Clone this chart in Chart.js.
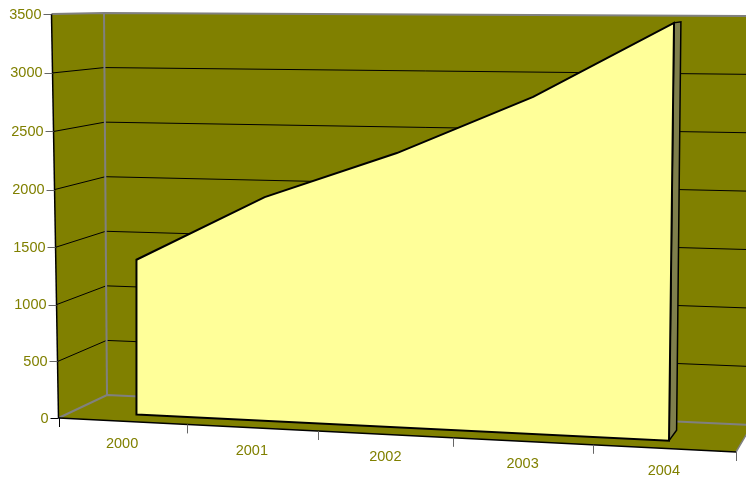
<!DOCTYPE html>
<html>
<head>
<meta charset="utf-8">
<title>3D area chart</title>
<script src="https://cdn.jsdelivr.net/npm/chart.js@4/dist/chart.umd.min.js"></script>
<style>
  html, body { margin: 0; padding: 0; background: #fff; }
  canvas { display: block; }
</style>
</head>
<body>
<canvas id="chart" width="746" height="479"></canvas>
<script>
const years = ['2000', '2001', '2002', '2003', '2004'];
const values = [1367, 1943, 2345, 2835, 3455];
const valueTicks = [0, 500, 1000, 1500, 2000, 2500, 3000, 3500];

const OLIVE = '#808000';
const GREY = '#808080';
const AREA_FRONT = 0.29;
const AREA_BACK = 0.68;

// corners of the box on screen, the 3d look comes from these
const frontPlane = { bl: [58.5, 418], br: [736, 452], tl: [51.5, 14], tr: [742.5, 18.5] };
const backPlane = { bl: [107, 395], br: [752, 425], tl: [104, 13], tr: [756, 16] };
const PERSPECTIVE_X = 1.073;
const PERSPECTIVE_Y = 1.025;

const lerp = (a, b, t) => a + (b - a) * t;

function project(u, v, d) {
    const w = u / (u + PERSPECTIVE_X * (1 - u));
    const h = v / (v + lerp(PERSPECTIVE_Y, 1, d) * (1 - v));
    const [x, y] = [0, 1].map(i => {
        const front = lerp(lerp(frontPlane.bl[i], frontPlane.br[i], w), lerp(frontPlane.tl[i], frontPlane.tr[i], w), h);
        const back = lerp(lerp(backPlane.bl[i], backPlane.br[i], w), lerp(backPlane.tl[i], backPlane.tr[i], w), h);
        return lerp(front, back, d);
    });
    // the walls lean more than the area does, straighten the planes in between
    const lean = d > 0 && d < 1 ? (1 - w) * (1.5 + 5 * h) - w * 0.7 : 0;
    return [x + lean, y];
}

const xMin = -0.5;
const xMax = years.length - 0.5;
const yMax = valueTicks[valueTicks.length - 1];

function shape(points, fill, stroke, width) {
    return {
        data: points.map(p => ({ x: p[0], y: p[1], d: p[2] })),
        showLine: true,
        pointRadius: 0,
        tension: 0,
        clip: false,
        fill: fill ? 'shape' : false,
        backgroundColor: fill || 'transparent',
        borderColor: stroke || 'transparent',
        borderWidth: stroke ? width : 0,
    };
}

const lastIdx = years.length - 1;
const faceTop = values.map((v, i) => [i, v, AREA_FRONT]);

// listed back to front
const layers = [
    shape([[xMin, 0, 1], [xMax, 0, 1], [xMax, yMax, 1], [xMin, yMax, 1]], OLIVE),
    shape([[xMin, 0, 0], [xMin, 0, 1], [xMin, yMax, 1], [xMin, yMax, 0]], OLIVE),
    shape([[xMin, 0, 0], [xMax, 0, 0], [xMax, 0, 1], [xMin, 0, 1]], OLIVE),
];

valueTicks.slice(1, -1).forEach(t => {
    layers.push(shape([[xMin, t, 0], [xMin, t, 1], [xMax, t, 1]], null, '#000', 1));
});

layers.push(
    shape([[xMin, yMax, 0], [xMin, yMax, 1], [xMax, yMax, 1]], null, GREY, 2),
    shape([[xMin, 0, 1], [xMin, yMax, 1]], null, GREY, 2),
    shape([[xMin, 0, 0], [xMin, 0, 1], [xMax, 0, 1]], null, GREY, 2),
    shape([[xMax, 0, 0], [xMax, 0, 1]], null, GREY, 1.5),
    shape([[xMin, 0, 0], [xMin, yMax, 0]], null, '#000', 1.5),
    shape([[xMin, 0, 0], [xMax, 0, 0]], null, '#000', 1.5),
    // end cap of the area
    shape([
        [lastIdx, 0, AREA_FRONT], [lastIdx, 0, AREA_BACK],
        [lastIdx, values[lastIdx], AREA_BACK], [lastIdx, values[lastIdx], AREA_FRONT],
        [lastIdx, 0, AREA_FRONT],
    ], '#7f7f4c', '#000', 1.5),
    // front of the area
    shape([
        [0, 0, AREA_FRONT], ...faceTop, [lastIdx, 0, AREA_FRONT], [0, 0, AREA_FRONT],
    ], '#ffff99', '#000', 2)
);

const perspectivePlugin = {
    id: 'perspective',
    afterDatasetsUpdate(chart) {
        const { left, right, top, bottom } = chart.chartArea;
        chart.data.datasets.forEach((ds, i) => {
            chart.getDatasetMeta(i).data.forEach((pt, j) => {
                const u = (pt.x - left) / (right - left);
                const v = (bottom - pt.y) / (bottom - top);
                const [x, y] = project(u, v, ds.data[j].d);
                pt.x = x;
                pt.y = y;
            });
        });
    },
    afterDatasetsDraw(chart) {
        const { ctx, scales, chartArea } = chart;
        const toU = val => (scales.x.getPixelForValue(val) - chartArea.left) / chartArea.width;
        const toV = val => (chartArea.bottom - scales.y.getPixelForValue(val)) / chartArea.height;

        ctx.save();
        ctx.font = '14.5px "Liberation Sans", Arial, sans-serif';
        ctx.fillStyle = OLIVE;

        // value axis
        ctx.textAlign = 'right';
        ctx.textBaseline = 'middle';
        valueTicks.forEach(t => {
            const [x, y] = project(0, toV(t), 0);
            ctx.strokeStyle = t === 0 ? '#000' : '#666';
            ctx.lineWidth = 1;
            ctx.beginPath();
            ctx.moveTo(x - 8, Math.round(y) + 0.5);
            ctx.lineTo(x, Math.round(y) + 0.5);
            ctx.stroke();
            ctx.fillText(String(t), x - 10, y + 0.5);
        });

        // category axis
        ctx.textAlign = 'center';
        for (let i = 0; i <= years.length; i++) {
            const [x, y] = project(toU(i - 0.5), 0, 0);
            ctx.strokeStyle = i === 0 ? '#000' : '#666';
            ctx.beginPath();
            ctx.moveTo(Math.round(x) + 0.5, y);
            ctx.lineTo(Math.round(x) + 0.5, y + 9);
            ctx.stroke();
        }
        years.forEach((label, i) => {
            const [x, y] = project(toU(i), 0, 0);
            ctx.fillText(label, x, y + 23);
        });
        ctx.restore();
    },
};

new Chart(document.getElementById('chart'), {
    type: 'scatter',
    data: { datasets: layers.slice().reverse() },
    plugins: [perspectivePlugin],
    options: {
        responsive: false,
        animation: false,
        events: [],
        layout: { padding: 0 },
        scales: {
            x: { type: 'linear', min: xMin, max: xMax, display: false },
            y: { type: 'linear', min: 0, max: yMax, display: false },
        },
        plugins: {
            legend: { display: false },
            tooltip: { enabled: false },
        },
    },
});
</script>
</body>
</html>
